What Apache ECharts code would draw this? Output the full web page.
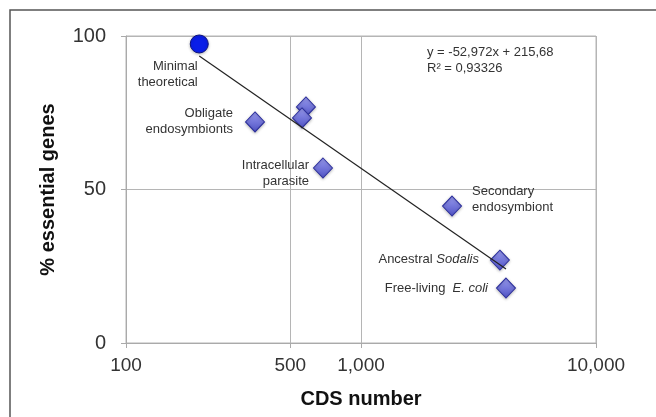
<!DOCTYPE html>
<html>
<head>
<meta charset="utf-8">
<script src="https://cdn.jsdelivr.net/npm/echarts@6/dist/echarts.min.js"></script>
<style>
  html, body { margin: 0; padding: 0; background: #fff; }
  #main { width: 656px; height: 417px; }
</style>
</head>
<body>
<div id="main"></div>
<script>
// data
var cdsNumber = [205, 354, 583, 561, 689, 2440, 3900, 4140];
var pctEssential = [97.4, 72.0, 76.9, 73.3, 57.0, 44.6, 27.0, 17.9];
var pointLabels = ['Minimal\ntheoretical', 'Obligate\nendosymbionts', '', '', 'Intracellular\nparasite',
  'Secondary\nendosymbiont', 'Ancestral {i|Sodalis}', 'Free-living  {i|E. coli}'];
// trend line end points (y = -52,972 log(x) + 215,68)
var trendX = [205, 4140];
var trendY = [93.5, 24.1];
var xTicks = [100, 500, 1000, 10000];
var yTicks = [0, 50, 100];
var equationText = 'y = -52,972x + 215,68\nR² = 0,93326';

var chartDom = document.getElementById('main');
var myChart = echarts.init(chartDom);
var FONT = '"Liberation Sans", Arial, sans-serif';

// where each label goes relative to its symbol box
var labelPlace = [
  { position: [8, 24], align: 'right', verticalAlign: 'top' },
  { position: [-12, -6], align: 'right', verticalAlign: 'top' },
  null, null,
  { position: [-4, 0], align: 'right', verticalAlign: 'top' },
  { position: [30, -12], align: 'left', verticalAlign: 'top' },
  { position: [-11, 10], align: 'right', verticalAlign: 'middle' },
  { position: [-8, 11], align: 'right', verticalAlign: 'middle' }
];

var diamondColor = new echarts.graphic.LinearGradient(0, 0, 0, 1, [
  { offset: 0, color: '#9a9cf0' },
  { offset: 1, color: '#4e51c4' }
]);

var pointData = cdsNumber.map(function (x, i) {
  var item = { value: [x, pctEssential[i]] };
  if (i === 0) {
    item.symbol = 'circle';
    item.symbolSize = 18;
    item.itemStyle = { color: '#0a1ee8', borderColor: '#0b1280', borderWidth: 1, opacity: 1 };
  }
  if (labelPlace[i]) {
    item.label = Object.assign({ show: true, formatter: pointLabels[i] }, labelPlace[i]);
  }
  return item;
});

var trendData = trendX.map(function (x, i) { return [x, trendY[i]]; });

var option = {
  animation: false,
  backgroundColor: '#fff',
  grid: {
    left: 126, right: 60, top: 36, bottom: 74,
    show: true, borderColor: '#b5b5b5', borderWidth: 1
  },
  xAxis: {
    type: 'log',
    logBase: 10,
    min: 100,
    max: 10000,
    name: 'CDS number',
    nameLocation: 'middle',
    nameGap: 46,
    nameTextStyle: { fontFamily: FONT, fontSize: 20, fontWeight: 'bold', color: '#111' },
    axisLine: { lineStyle: { color: '#aaa' } },
    axisTick: { show: true, customValues: xTicks, length: 5, lineStyle: { color: '#aaa' } },
    axisLabel: {
      customValues: xTicks,
      fontFamily: FONT, fontSize: 19, color: '#333', margin: 13,
      formatter: function (v) { return Number(v).toLocaleString('en-US'); }
    },
    splitLine: { show: true, lineStyle: { color: '#b5b5b5' } }
  },
  yAxis: {
    type: 'value',
    min: 0,
    max: 100,
    interval: 50,
    name: '% essential genes',
    nameLocation: 'middle',
    nameGap: 68,
    nameTextStyle: { fontFamily: FONT, fontSize: 20, fontWeight: 'bold', color: '#111' },
    axisLine: { show: true, lineStyle: { color: '#aaa' } },
    axisTick: { show: true, length: 5, lineStyle: { color: '#aaa' } },
    axisLabel: {
      fontFamily: FONT, fontSize: 20, color: '#333', margin: 20,
      formatter: function (v) { return yTicks.indexOf(v) >= 0 ? String(v) : ''; }
    },
    splitLine: { show: true, lineStyle: { color: '#b5b5b5' } }
  },
  graphic: [
    {
      type: 'rect', silent: true,
      shape: { x: 10, y: 10, width: 700, height: 460 },
      style: { fill: 'none', stroke: '#555', lineWidth: 1.5 }
    },
    {
      type: 'text', left: 427, top: 44,
      style: { text: equationText, font: '13px ' + FONT, fill: '#333', lineHeight: 16 }
    }
  ],
  series: [
    {
      type: 'scatter',
      symbol: 'diamond',
      symbolSize: [19, 20],
      itemStyle: {
        color: diamondColor, borderColor: '#2c2f9c', borderWidth: 1, opacity: 1,
        shadowColor: 'rgba(0,0,0,0.25)', shadowBlur: 3, shadowOffsetY: 1
      },
      label: {
        fontFamily: FONT, fontSize: 13, color: '#333', lineHeight: 16,
        rich: { i: { fontFamily: FONT, fontSize: 13, fontStyle: 'italic', color: '#333' } }
      },
      data: pointData,
      z: 3
    },
    {
      type: 'line',
      data: trendData,
      symbol: 'none',
      lineStyle: { color: '#222', width: 1.2 },
      silent: true,
      z: 4
    }
  ]
};

option && myChart.setOption(option);
window.addEventListener('resize', function () {
  myChart.resize();
});
</script>
</body>
</html>
